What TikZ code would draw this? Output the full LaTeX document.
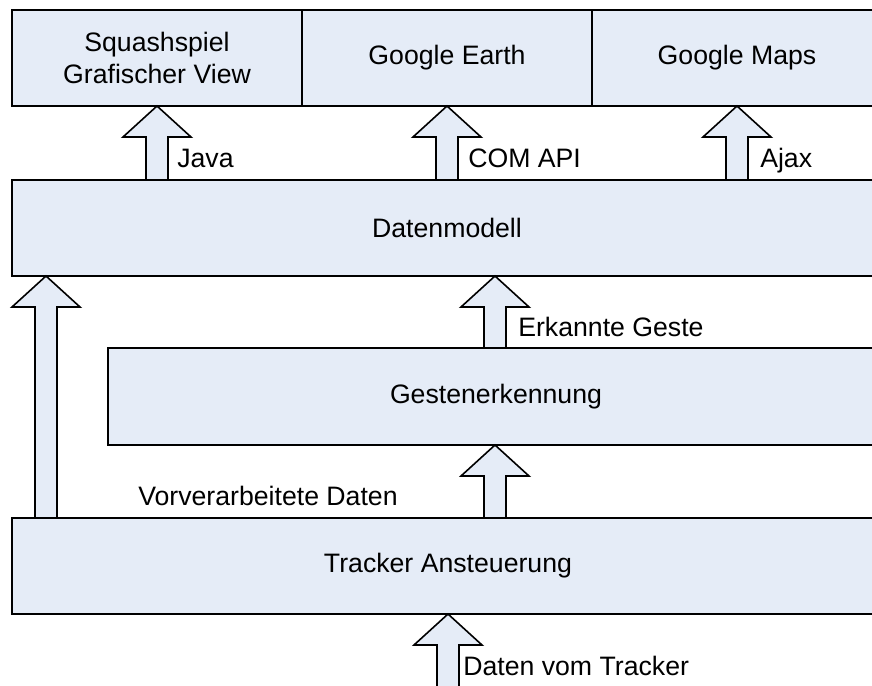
\documentclass[tikz,border=0pt]{standalone}
\usepackage{fontspec}
\setmainfont{Liberation Sans}
\usetikzlibrary{positioning, calc}
\definecolor{boxfill}{RGB}{229,236,247}

\tikzset{
    box/.style={rectangle, draw, line width=1.2pt, fill=boxfill, outer sep=0pt,
        minimum height=72pt, align=center, font=\fontsize{20}{24}\selectfont},
    lbl/.style={inner sep=0pt, anchor=base west, font=\fontsize{20}{24}\selectfont},
    bigarrow/.style={draw, line width=1.2pt, fill=boxfill, line join=miter,
        to path={let \p1=(\tikztostart), \p2=(\tikztotarget) in
            (\x1-8.25pt,\y1) -- (\x1-8.25pt,\y2-23.25pt) -- (\x1-25.5pt,\y2-23.25pt)
            -- (\x1,\y2) -- (\x1+25.5pt,\y2-23.25pt) -- (\x1+8.25pt,\y2-23.25pt)
            -- (\x1+8.25pt,\y1) -- cycle}}
}

\begin{document}
\begin{tikzpicture}[x=0.75pt, y=-0.75pt]
    \useasboundingbox (0,0) rectangle (872,686);

    % Anzeige
    \node (squash) [box, minimum width=217.5pt] at (157,58) {Squashspiel\\Grafischer View};
    \node (earth) [box, minimum width=217.5pt, right=0pt of squash] {Google Earth};
    \node (maps) [box, minimum width=217.5pt, right=0pt of earth] {Google Maps};

    % Schichten
    \node (dm) [box, minimum width=652.5pt] at (447,228) {Datenmodell};
    \node (ge) [box, minimum width=582pt, minimum height=72.75pt] at (496,396.5) {Gestenerkennung};
    \node (tr) [box, minimum width=654pt] at (448,566) {Tracker Ansteuerung};

    \coordinate (lx) at (46,0);
    \coordinate (gx) at (495,0);
    \coordinate (src) at (448,700);

    \draw [bigarrow] (squash.south |- dm.north) to (squash.south);
    \draw [bigarrow] (earth.south |- dm.north) to (earth.south);
    \draw [bigarrow] (maps.south |- dm.north) to (maps.south);
    \draw [bigarrow] (lx |- tr.north) to (lx |- dm.south);
    \draw [bigarrow] (gx |- ge.north) to (gx |- dm.south);
    \draw [bigarrow] (gx |- tr.north) to (gx |- ge.south);
    \draw [bigarrow] (src) to (src |- tr.south);

    \node (java) [lbl] at (177,167) {Java};
    \node (com) [lbl] at (468,167) {COM API};
    \node (ajax) [lbl] at (760,167) {Ajax};
    \node (erk) [lbl] at (518,336) {Erkannte Geste};
    \node (vor) [lbl] at (138,505) {Vorverarbeitete Daten};
    \node (dvt) [lbl] at (463,675) {Daten vom Tracker};
\end{tikzpicture}
\end{document}
